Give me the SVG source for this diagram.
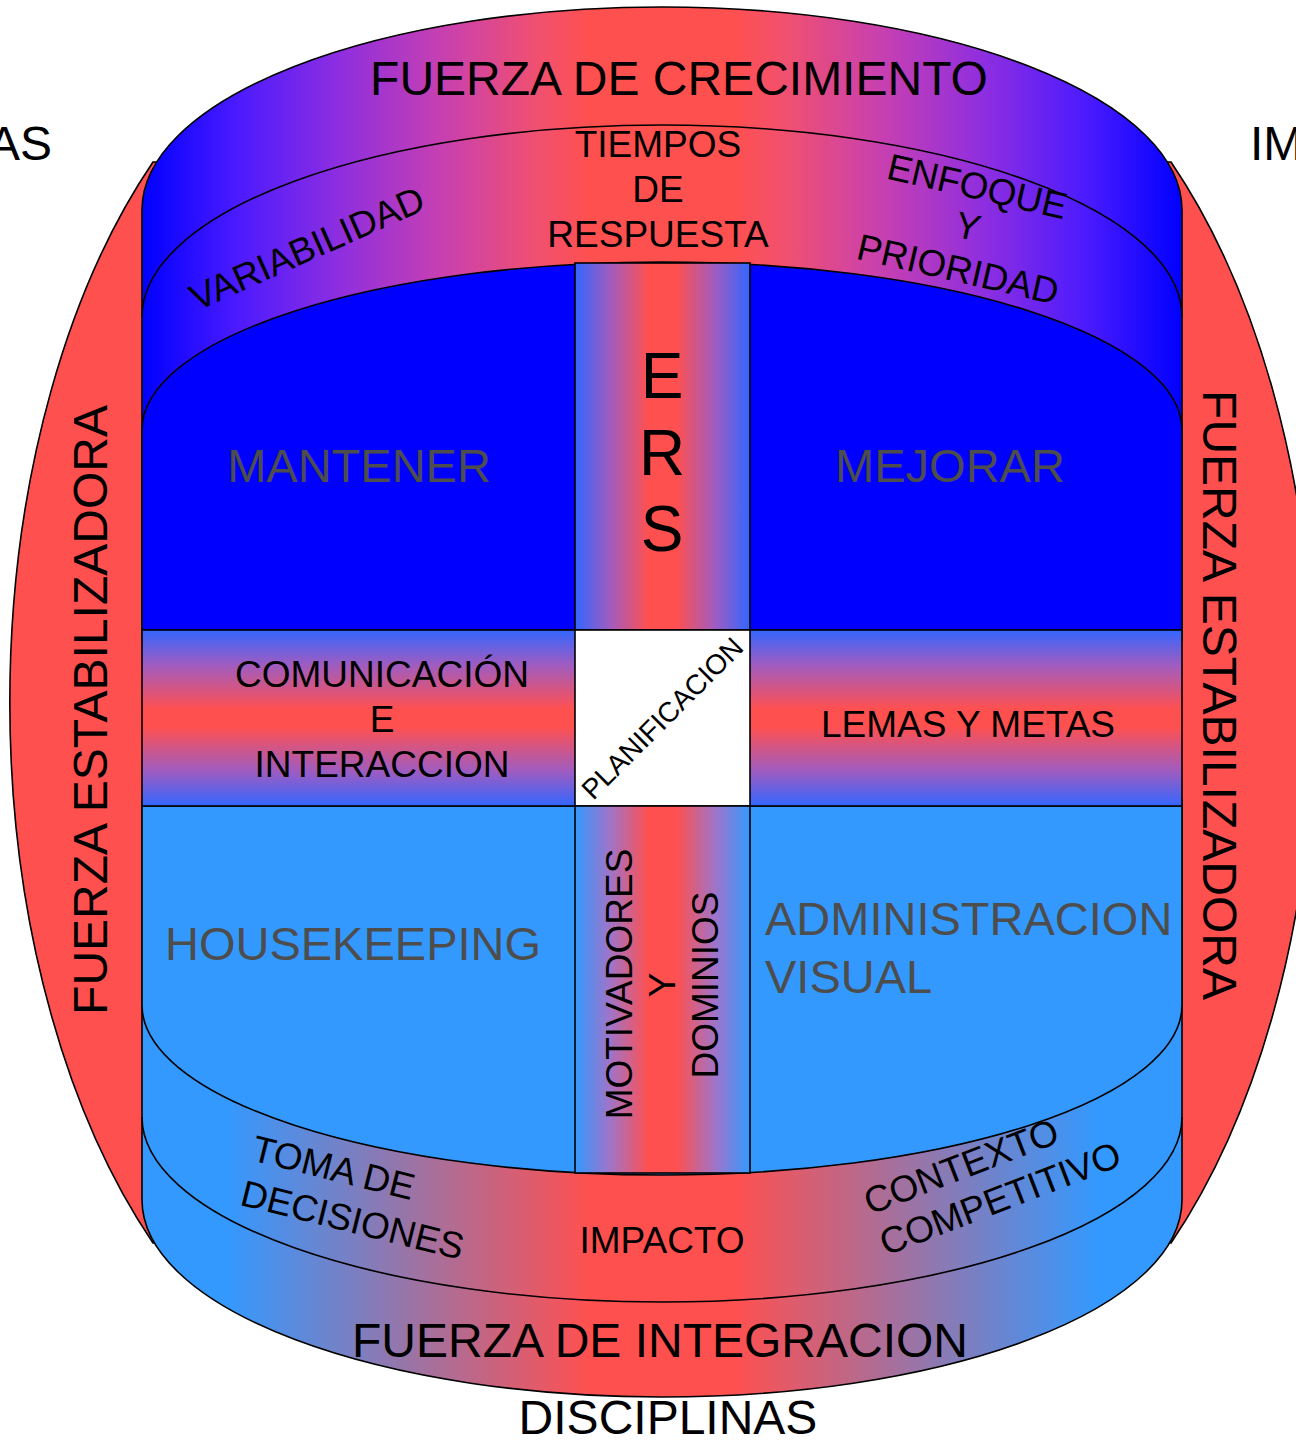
<svg xmlns="http://www.w3.org/2000/svg" width="1296" height="1444" viewBox="0 0 1296 1444">
<style>
text{font-family:"Liberation Sans",Arial,sans-serif;fill:#000}
.ln{fill:none;stroke:#000;stroke-width:1.6}
.sh{stroke:#000;stroke-width:1.6}
.big{font-size:48px}
.mid{font-size:37px}
.gray{fill:#4d4d4d;font-size:47px}
.c{text-anchor:middle}
</style>
<defs>
<linearGradient id="gTop" x1="0" y1="0" x2="1" y2="0">
<stop offset="0" stop-color="#0000ff"/><stop offset="0.09" stop-color="#4a1aff"/><stop offset="0.19" stop-color="#8e2ee0"/><stop offset="0.29" stop-color="#c840b0"/><stop offset="0.38" stop-color="#f05070"/><stop offset="0.43" stop-color="#ff5050"/>
<stop offset="0.57" stop-color="#ff5050"/><stop offset="0.62" stop-color="#f05070"/><stop offset="0.71" stop-color="#c840b0"/><stop offset="0.81" stop-color="#8e2ee0"/><stop offset="0.91" stop-color="#4a1aff"/><stop offset="1" stop-color="#0000ff"/>
</linearGradient>
<linearGradient id="gBot" x1="0" y1="0" x2="1" y2="0">
<stop offset="0" stop-color="#3399ff"/><stop offset="0.08" stop-color="#3399ff"/><stop offset="0.43" stop-color="#ff5050"/><stop offset="0.57" stop-color="#ff5050"/><stop offset="0.92" stop-color="#3399ff"/><stop offset="1" stop-color="#3399ff"/>
</linearGradient>
<linearGradient id="gColTop" x1="0" y1="0" x2="1" y2="0"><stop offset="0" stop-color="#3366ff"/><stop offset="0.2" stop-color="#a05cc0"/><stop offset="0.42" stop-color="#ff5050"/><stop offset="0.58" stop-color="#ff5050"/><stop offset="0.8" stop-color="#a05cc0"/><stop offset="1" stop-color="#3366ff"/></linearGradient>
<linearGradient id="gColBot" x1="0" y1="0" x2="1" y2="0"><stop offset="0" stop-color="#3399ff"/><stop offset="0.2" stop-color="#a074c8"/><stop offset="0.42" stop-color="#ff5050"/><stop offset="0.58" stop-color="#ff5050"/><stop offset="0.8" stop-color="#a074c8"/><stop offset="1" stop-color="#3399ff"/></linearGradient>
<linearGradient id="gMid" x1="0" y1="0" x2="0" y2="1"><stop offset="0" stop-color="#3366ff"/><stop offset="0.2" stop-color="#a05cc0"/><stop offset="0.45" stop-color="#ff5050"/><stop offset="0.55" stop-color="#ff5050"/><stop offset="0.8" stop-color="#a05cc0"/><stop offset="1" stop-color="#3366ff"/></linearGradient>
</defs>
<rect width="1296" height="1444" fill="#fff"/>

<g id="side-labels">
<text class="big" x="52" y="160" text-anchor="end">AS</text>
<text class="big" x="1250" y="160">IM</text>
</g>

<g id="fuerza-estabilizadora">
<path class="sh" fill="#ff5050" d="M153,162 A400,705 0 0 0 153,1243 L1171,1243 A400,705 0 0 0 1171,162 Z"/>
<text class="big c" transform="translate(107,710) rotate(-90)">FUERZA ESTABILIZADORA</text>
<text class="big c" transform="translate(1203,695) rotate(90)">FUERZA ESTABILIZADORA</text>
</g>

<g id="fuerza-crecimiento">
<path class="sh" fill="url(#gTop)" d="M142,640 L142,210 A520,203 0 0 1 1182,210 L1182,640 Z"/>
<path class="ln" d="M142,317 A520,192 0 0 1 1182,317"/>
<text class="big c" x="679" y="95">FUERZA DE CRECIMIENTO</text>
</g>

<g id="fuerza-integracion">
<path class="sh" fill="url(#gBot)" d="M142,800 L142,1200 A520,197 0 0 0 1182,1200 L1182,800 Z"/>
<path class="ln" d="M142,1117 A520,185 0 0 0 1182,1117"/>
<text class="big c" x="660" y="1357">FUERZA DE INTEGRACION</text>
</g>

<g id="disciplinas">
<text class="big c" x="668" y="1434">DISCIPLINAS</text>
</g>

<g id="variabilidad">
<text class="mid c" transform="translate(307,248) rotate(-24)" y="13">VARIABILIDAD</text>
</g>
<g id="tiempos-respuesta">
<text class="mid c" x="658" y="157">TIEMPOS</text>
<text class="mid c" x="658" y="202">DE</text>
<text class="mid c" x="658" y="247">RESPUESTA</text>
</g>
<g id="enfoque-prioridad" transform="rotate(13,968,226)">
<text class="mid c" x="968" y="198">ENFOQUE</text>
<text class="mid c" x="968" y="239">Y</text>
<text class="mid c" x="968" y="283">PRIORIDAD</text>
</g>

<g id="mantener-mejorar">
<path class="sh" fill="#0000ff" d="M142,630 L142,430 A520,168 0 0 1 1182,430 L1182,630 Z"/>
<text class="gray c" x="359" y="482">MANTENER</text>
<text class="gray c" x="950" y="482">MEJORAR</text>
</g>

<g id="housekeeping-admin">
<path class="sh" fill="#3399ff" d="M142,806 L142,1005 A520,170 0 0 0 1182,1005 L1182,806 Z"/>
<text class="gray c" x="353" y="960">HOUSEKEEPING</text>
<text class="gray" x="765" y="935">ADMINISTRACION</text>
<text class="gray" x="765" y="993">VISUAL</text>
</g>

<g id="comunicacion-lemas">
<rect class="sh" fill="url(#gMid)" x="142" y="630" width="1040" height="176"/>
<text class="mid c" x="382" y="687">COMUNICACIÓN</text>
<text class="mid c" x="382" y="732">E</text>
<text class="mid c" x="382" y="777">INTERACCION</text>
<text class="mid c" x="968" y="737">LEMAS Y METAS</text>
</g>

<g id="ers">
<rect class="sh" fill="url(#gColTop)" x="575" y="263" width="175" height="367"/>
<text class="c" style="font-size:64px" x="662" y="398">E</text>
<text class="c" style="font-size:64px" x="662" y="475">R</text>
<text class="c" style="font-size:64px" x="662" y="551">S</text>
</g>

<g id="planificacion">
<rect class="sh" fill="#fff" x="575" y="630" width="175" height="176"/>
<text class="c" style="font-size:28px" transform="translate(662,718) rotate(-45)" y="10">PLANIFICACION</text>
</g>

<g id="motivadores-dominios">
<rect class="sh" fill="url(#gColBot)" x="575" y="806" width="175" height="367"/>
<text class="mid c" transform="translate(632,984) rotate(-90)">MOTIVADORES</text>
<text class="mid c" transform="translate(675,985) rotate(-90)">Y</text>
<text class="mid c" transform="translate(718,985) rotate(-90)">DOMINIOS</text>
</g>

<g id="toma-decisiones" transform="translate(250,1160) rotate(14)">
<text class="mid" x="0" y="0">TOMA DE</text>
<text class="mid" x="0" y="46">DECISIONES</text>
</g>
<g id="impacto">
<text class="mid c" x="662" y="1253">IMPACTO</text>
</g>
<g id="contexto-competitivo" transform="translate(870,1215) rotate(-21)">
<text class="mid" x="0" y="0">CONTEXTO</text>
<text class="mid" x="0" y="44">COMPETITIVO</text>
</g>

<g id="connectors"/>
</svg>
